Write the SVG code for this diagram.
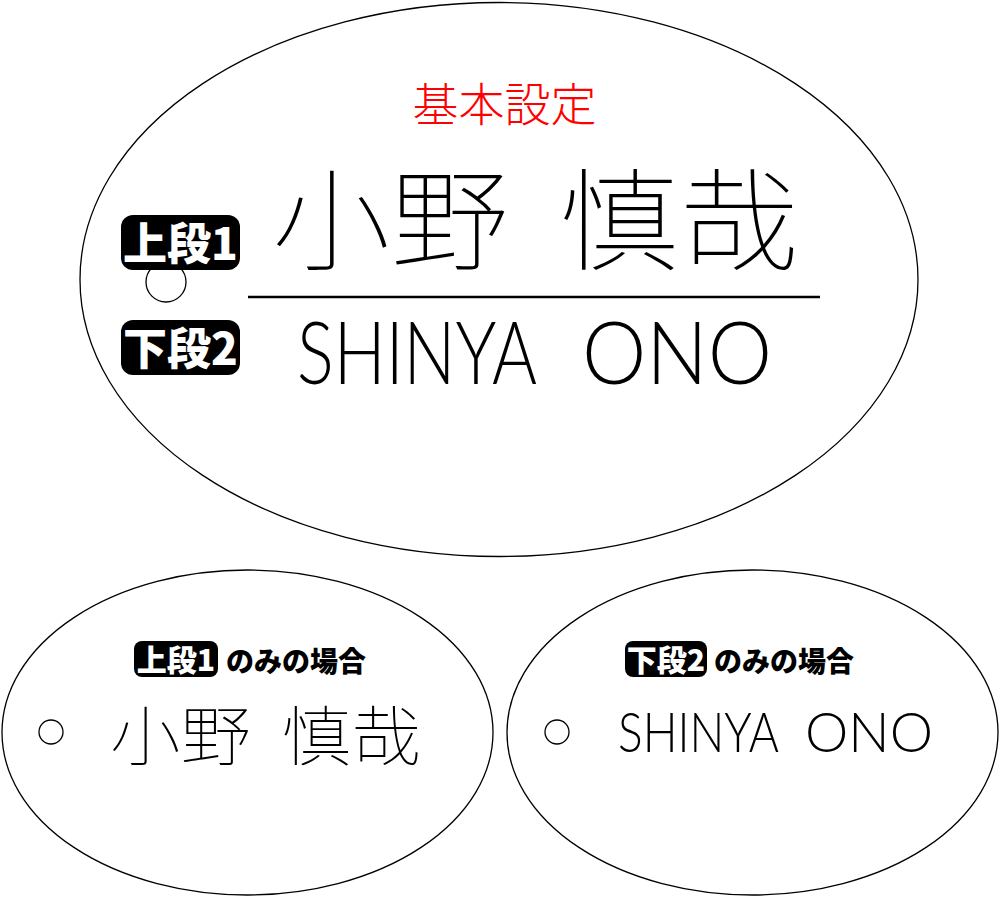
<svg xmlns="http://www.w3.org/2000/svg" width="1000" height="897" viewBox="0 0 1000 897">
<style>
.plate{fill:#fff;stroke:#000;stroke-width:1.3}
.hole{fill:#fff;stroke:#000;stroke-width:1.3}
.tag{fill:#000}
.tagt{fill:#fff;font-family:"Noto Sans CJK JP",sans-serif;font-weight:900}
.jp{font-family:"Noto Sans CJK JP",sans-serif;font-weight:100;fill:#000}
.en{font-family:"Lato","Noto Sans",sans-serif;font-weight:300;fill:#000}
.cap{font-family:"Noto Sans CJK JP",sans-serif;font-weight:900;fill:#000}
</style>
<rect width="1000" height="897" fill="#fff"/>
<g id="plate-main">
<ellipse class="plate" cx="499" cy="279.5" rx="419" ry="277"/>
<circle class="hole" cx="166" cy="282" r="20"/>
<text x="504.5" y="121" font-family="Noto Sans CJK JP,sans-serif" font-size="46" fill="#f00" text-anchor="middle" font-weight="300">基本設定</text>
<rect class="tag" x="121" y="215" width="119" height="55" rx="12"/>
<text class="tagt" x="180.5" y="260" font-size="44" text-anchor="middle">上段1</text>
<rect class="tag" x="121" y="320" width="119" height="55" rx="12"/>
<text class="tagt" x="180.5" y="365" font-size="44" text-anchor="middle">下段2</text>
<text class="jp" x="272" y="262" font-size="111" textLength="237" lengthAdjust="spacingAndGlyphs">小野</text>
<text class="jp" x="560" y="262" font-size="111" textLength="239" lengthAdjust="spacingAndGlyphs">慎哉</text>
<line x1="248" y1="297" x2="820" y2="297" stroke="#000" stroke-width="2.5"/>
<text class="en" x="297" y="384" font-size="86" textLength="240" lengthAdjust="spacingAndGlyphs">SHINYA</text>
<text class="en" x="582" y="384" font-size="86" textLength="190" lengthAdjust="spacingAndGlyphs">ONO</text>
</g>
<g id="plate-upper">
<ellipse class="plate" cx="247.5" cy="732.5" rx="245.5" ry="162.5"/>
<circle class="hole" cx="51" cy="732" r="12"/>
<rect class="tag" x="134" y="641" width="84" height="36" rx="8"/>
<text class="tagt" x="176" y="671" font-size="30" text-anchor="middle">上段1</text>
<text class="cap" x="226" y="672" font-size="28">のみの場合</text>
<text class="jp" x="110" y="760" font-size="65" textLength="141" lengthAdjust="spacingAndGlyphs">小野</text>
<text class="jp" x="282" y="760" font-size="65" textLength="139" lengthAdjust="spacingAndGlyphs">慎哉</text>
</g>
<g id="plate-lower">
<ellipse class="plate" cx="752.5" cy="732.5" rx="245.5" ry="162.5"/>
<circle class="hole" cx="557" cy="732" r="12"/>
<rect class="tag" x="625" y="641" width="82" height="36" rx="8"/>
<text class="tagt" x="666" y="671" font-size="30" text-anchor="middle">下段2</text>
<text class="cap" x="714" y="672" font-size="28">のみの場合</text>
<text class="en" x="618" y="752" font-size="55" textLength="161" lengthAdjust="spacingAndGlyphs">SHINYA</text>
<text class="en" x="805" y="752" font-size="55" textLength="128" lengthAdjust="spacingAndGlyphs">ONO</text>
</g>
<g id="connectors"></g>
</svg>
